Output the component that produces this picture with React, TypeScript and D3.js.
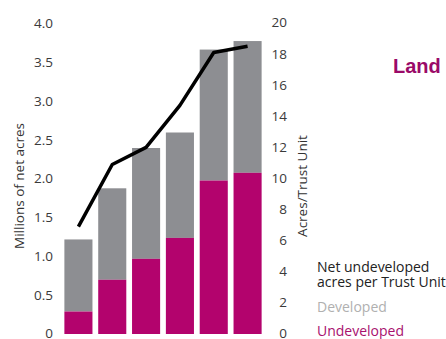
import React from "react";
import * as d3 from "d3";

const categories = ["1", "2", "3", "4", "5", "6"];
const undeveloped = [0.29, 0.7, 0.97, 1.24, 1.98, 2.08];
const developed = [0.93, 1.18, 1.43, 1.36, 1.69, 1.7];
const acresPerUnit = [6.9, 10.9, 12.0, 14.7, 18.1, 18.5];
const leftTicks = [0, 0.5, 1.0, 1.5, 2.0, 2.5, 3.0, 3.5, 4.0];
const rightTicks = [0, 2, 4, 6, 8, 10, 12, 14, 16, 18, 20];

const W = 446;
const H = 339;
const FONT = "'Open Sans', 'DejaVu Sans', sans-serif";

export default function App() {
  const x = d3.scaleBand().domain(categories).range([61, 265]).paddingInner(0.17).paddingOuter(0.1);
  const yL = d3.scaleLinear().domain([0, 4]).range([334, 24]);
  const yR = d3.scaleLinear().domain([0, 20]).range([334, 23]);

  const line = d3
    .line<number>()
    .x((_, i) => (x(categories[i]) as number) + x.bandwidth() / 2)
    .y((d) => yR(d));

  return (
    <svg
      width={W}
      height={H}
      style={{ position: "absolute", left: 0, top: 0, background: "#fff" }}
    >
      {categories.map((c, i) => (
        <g key={c}>
          <rect
            x={x(c)}
            width={x.bandwidth()}
            y={yL(undeveloped[i] + developed[i])}
            height={yL(undeveloped[i]) - yL(undeveloped[i] + developed[i])}
            fill="#8d8e92"
          />
          <rect
            x={x(c)}
            width={x.bandwidth()}
            y={yL(undeveloped[i])}
            height={yL(0) - yL(undeveloped[i])}
            fill="#b3036d"
          />
        </g>
      ))}
      <path
        d={line(acresPerUnit) || ""}
        fill="none"
        stroke="#000"
        strokeWidth={3.5}
        strokeLinejoin="round"
      />
      {leftTicks.map((t) => (
        <text
          key={"l" + t}
          x={53}
          y={yL(t)}
          dy="0.33em"
          textAnchor="end"
          fontFamily={FONT}
          fontSize={13.5}
          fill="#3a3a3a"
        >
          {t === 0 ? "0" : d3.format(".1f")(t)}
        </text>
      ))}
      {rightTicks.map((t) => (
        <text
          key={"r" + t}
          x={287}
          y={yR(t)}
          dy="0.33em"
          textAnchor="end"
          fontFamily={FONT}
          fontSize={13.5}
          fill="#3a3a3a"
        >
          {t}
        </text>
      ))}
      <text
        transform="translate(24,186) rotate(-90)"
        textAnchor="middle"
        fontFamily={FONT}
        fontSize={13.5}
        fill="#333"
      >
        Millions of net acres
      </text>
      <text
        transform="translate(307,186) rotate(-90)"
        textAnchor="middle"
        fontFamily={FONT}
        fontSize={13.5}
        fill="#333"
      >
        Acres/Trust Unit
      </text>
      <text x={317} y={267} dy="0.35em" fontFamily={FONT} fontSize={14} fill="#222">
        Net undeveloped
      </text>
      <text x={317} y={282} dy="0.35em" fontFamily={FONT} fontSize={14} fill="#222">
        acres per Trust Unit
      </text>
      <text x={317} y={307} dy="0.35em" fontFamily={FONT} fontSize={14} fill="#b0b0b0">
        Developed
      </text>
      <text x={317} y={331} dy="0.35em" fontFamily={FONT} fontSize={14} fill="#a8106e">
        Undeveloped
      </text>
      <text
        x={393}
        y={73}
        fontFamily="'Liberation Sans', Arial, sans-serif"
        fontWeight="bold"
        fontSize={20}
        fill="#9a0a68"
      >
        Land
      </text>
    </svg>
  );
}
